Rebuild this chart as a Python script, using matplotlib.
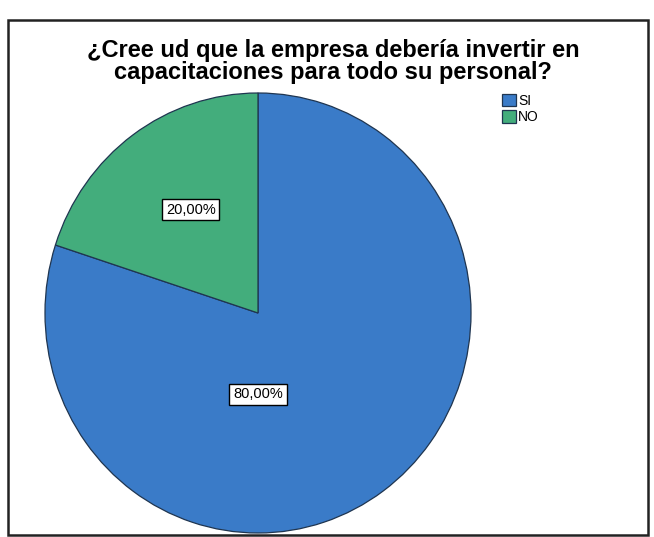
import matplotlib.pyplot as plt
from matplotlib.patches import Rectangle

labels = ['SI', 'NO']
values = [80.0, 20.0]
pct_text = ['80,00%', '20,00%']
colors = ['#3a7bc8', '#43ad7c']

fig = plt.figure(figsize=(6.54, 5.37), dpi=100)

# outer frame of the chart
fig.patches.append(Rectangle((8/654, 2/537), 640/654, 515/537, transform=fig.transFigure,
                             fill=False, edgecolor='#222222', linewidth=1.8))

fig.text(0.509, 0.885, '¿Cree ud que la empresa debería invertir en\ncapacitaciones para todo su personal?',
         ha='center', va='center', fontsize=17, fontweight='bold', family='Liberation Sans',
         linespacing=0.95)

ax = fig.add_axes([45/654, 4/537, 426/654, 440/537])
wedges, _ = ax.pie(values, colors=colors, startangle=90, counterclock=False,
                   wedgeprops=dict(edgecolor='#1f3550', linewidth=0.9))
ax.set_aspect('auto')
ax.set_xlim(-1, 1)
ax.set_ylim(-1, 1)

# label positions as SPSS places them
pos = [(0.0, -0.37), (-0.315, 0.47)]
for (x, y), t in zip(pos, pct_text):
    ax.text(x, y, t, ha='center', va='center', fontsize=10.5, family='Liberation Sans',
            bbox=dict(boxstyle='square,pad=0.25', facecolor='white', edgecolor='black', linewidth=1))

leg = fig.legend(wedges, labels, loc='upper left', bbox_to_anchor=(0.759, 0.836), frameon=False,
                 prop={'family': 'Liberation Sans', 'size': 10}, handlelength=1.0, handleheight=1.0,
                 handletextpad=0.15, labelspacing=0.2, borderaxespad=0)

fig.savefig('out.png', dpi=100)
